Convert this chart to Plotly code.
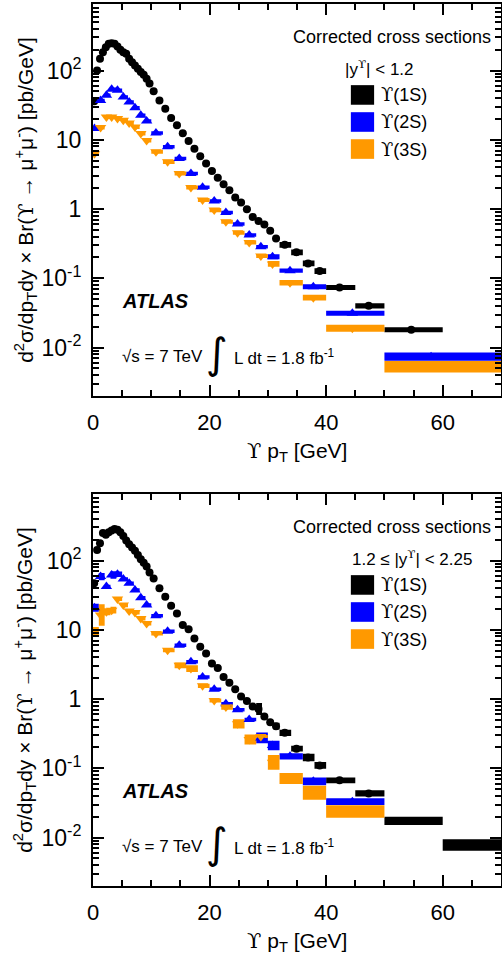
import plotly.graph_objects as go
import math

# ---------------- DATA ----------------
# Top panel: |y| < 1.2
top_1s_edges = [0, 0.5, 1, 1.5, 2, 2.5, 3, 3.5, 4, 4.5, 5, 5.5, 6, 6.5, 7, 7.5, 8, 8.5, 9, 9.5, 10,
                11, 12, 13, 14, 15, 16, 17, 18, 19, 20, 21, 22, 23, 24, 25, 26, 27, 28, 29, 30, 31, 32,
                34, 36, 38, 40, 45, 50, 60]
top_1s_x = [0.2, 0.7, 1.2, 1.7, 2.2, 2.7, 3.2, 3.7, 4.2, 4.7, 5.2, 5.7, 6.2, 6.7, 7.2, 7.7, 8.2, 8.7, 9.2, 9.7,
            10.4, 11.4, 12.4, 13.4, 14.4, 15.4, 16.4, 17.4, 18.4, 19.4, 20.4, 21.4, 22.4, 23.4, 24.4, 25.4,
            26.4, 27.4, 28.4, 29.4, 30.4, 31.4, 32.9, 34.9, 36.9, 38.9, 42.3, 47.3, 54.6]
top_1s_val = [36, 100, 148, 184, 217, 243, 248, 243, 222, 199, 184, 175, 148, 132, 118, 106, 95, 87, 76, 65,
              50, 37, 28, 20.6, 16.2, 12.4, 9.6, 7.4, 5.8, 4.54, 3.55, 2.82, 2.28, 1.87, 1.47, 1.24,
              0.99, 0.77, 0.67, 0.60, 0.485, 0.377, 0.305, 0.237, 0.164, 0.127, 0.0737, 0.040, 0.0181]
top_1s_sys = [0.06] * 42 + [0.10, 0.10, 0.10, 0.10, 0.09, 0.09, 0.09]

top_23_edges = [0, 1, 2, 3, 4, 5, 6, 7, 8, 9, 10, 12, 14, 16, 18, 20, 22, 24, 26, 28, 30, 32, 36, 40, 50, 70]
top_2s_x = [0.25, 1.3, 2.3, 3.2, 4.2, 5.2, 6.2, 7.2, 8.2, 9.2, 10.8, 12.8, 14.8, 16.8, 18.8, 20.8,
            22.8, 24.8, 26.8, 28.8, 30.8, 33.8, 37.8, 44.5, 58.0]
top_2s_val = [14.5, 37, 43.8, 53.4, 51.7, 41.4, 35.1, 29.1, 22.5, 18.7, 12.5, 7.9, 5.35, 3.26, 2.07, 1.31,
              0.893, 0.606, 0.421, 0.285, 0.205, 0.129, 0.0757, 0.0314, 0.0074]
top_2s_sys = [0.06] * 20 + [0.087, 0.075, 0.087, 0.087, 0.15]
top_3s_x = top_2s_x
top_3s_val = [6.3, 15.0, 21.3, 21.3, 20.2, 19.1, 17.5, 15.3, 12.3, 9.8, 6.7, 4.8, 3.26, 2.05, 1.35, 0.965,
              0.654, 0.454, 0.33, 0.21, 0.161, 0.0865, 0.0526, 0.019, 0.0053]
top_3s_sys = [0.07] * 20 + [0.10, 0.095, 0.10, 0.12, 0.21]

# Bottom panel: 1.2 <= |y| < 2.25
bot_1s_edges = top_1s_edges + [70]
bot_1s_x = top_1s_x + [64.5]
bot_1s_val = [47, 142, 178, 249, 235, 255, 272, 285, 278, 255, 225, 195, 172, 154, 138, 120, 104, 93, 82, 67,
              55, 39.7, 30, 22.3, 17.2, 11.7, 10.2, 7.5, 5.67, 4.54, 3.25, 2.81, 2.08, 1.72, 1.38, 1.09,
              0.935, 0.78, 0.72, 0.56, 0.464, 0.406, 0.325, 0.192, 0.143, 0.110, 0.067, 0.0434, 0.0174, 0.0078]
bot_1s_sys = [0.06] * 38 + [0.22, 0.06, 0.06, 0.12] + [0.11, 0.10, 0.13, 0.12, 0.10, 0.11, 0.15, 0.21]

bot_23_edges = [0, 1, 2, 3, 4, 5, 6, 7, 8, 9, 10, 12, 14, 16, 18, 20, 22, 24, 26, 28, 30, 32, 36, 40, 50]
bot_2s_x = [0.25, 1.3, 2.3, 3.2, 4.2, 5.2, 6.2, 7.2, 8.2, 9.2, 10.8, 12.8, 14.8, 16.8, 18.8, 20.8,
            22.8, 24.8, 26.8, 28.8, 30.8, 33.8, 37.8, 44.5]
bot_2s_val = [20.8, 58.6, 42, 61.8, 63.3, 54.2, 46.9, 37.5, 29.1, 22.7, 16.0, 9.55, 6.0, 3.44, 2.08, 1.38,
              0.855, 0.70, 0.507, 0.275, 0.213, 0.149, 0.0648, 0.033]
bot_2s_sys = [0.14, 0.13, 0.06, 0.13, 0.10] + [0.06] * 14 + [0.20, 0.17, 0.11, 0.14, 0.12]
bot_3s_x = bot_2s_x
bot_3s_val = [9.35, 16.3, 18.2, 19.2, 27.8, 22.7, 18.6, 17.8, 14.6, 12.3, 8.84, 5.06, 3.07, 2.75, 1.55, 0.955,
              0.765, 0.438, 0.26, 0.287, 0.122, 0.0715, 0.0443, 0.0238]
bot_3s_sys = [0.17, 0.43, 0.12, 0.12, 0.07, 0.07, 0.07, 0.07, 0.07, 0.07, 0.07, 0.07, 0.10, 0.12, 0.07, 0.07,
              0.09, 0.17, 0.18, 0.05, 0.28, 0.20, 0.26, 0.235]

UPS = "<span style='font-family:DejaVu Serif'>ϒ</span>"
series_names = [UPS + "(1S)", UPS + "(2S)", UPS + "(3S)"]
rapidity_labels = ["|y<sup>" + UPS + "</sup>| < 1.2", "1.2 ≤ |y<sup>" + UPS + "</sup>| < 2.25"]
y_tickvals = [0.01, 0.1, 1, 10, 100]
y_ticktext = ["10<sup>-2</sup>", "10<sup>-1</sup>", "1", "10", "10<sup>2</sup>"]
x_tickvals = [0, 20, 40, 60]

# ---------------- STYLE ----------------
COLORS = ["#000000", "#0000ff", "#ff9900"]
SYMBOLS = ["circle", "triangle-up", "triangle-down"]
SIZES = [8, 10, 10]
FONT = "Liberation Sans, Arial, Helvetica, sans-serif"


def box_path(edges, vals, sys):
    xs, ys = [], []
    for lo, hi, v, e in zip(edges[:-1], edges[1:], vals, sys):
        ylo, yhi = v / (1 + e), v * (1 + e)
        xs += [lo, hi, hi, lo, lo, None]
        ys += [ylo, ylo, yhi, yhi, ylo, None]
    return xs, ys


panels = [
    dict(ax="x", ay="y",
         series=[(top_1s_edges, top_1s_x, top_1s_val, top_1s_sys),
                 (top_23_edges, top_2s_x, top_2s_val, top_2s_sys),
                 (top_23_edges, top_3s_x, top_3s_val, top_3s_sys)],
         rap=rapidity_labels[0], rapx=0.703),
    dict(ax="x2", ay="y2",
         series=[(bot_1s_edges, bot_1s_x, bot_1s_val, bot_1s_sys),
                 (bot_23_edges, bot_2s_x, bot_2s_val, bot_2s_sys),
                 (bot_23_edges, bot_3s_x, bot_3s_val, bot_3s_sys)],
         rap=rapidity_labels[1], rapx=0.782),
]

fig = go.Figure()
annotations = []
shapes = []

for p in panels:
    ax, ay = p["ax"], p["ay"]
    for i, (edges, xs, vals, sys) in enumerate(p["series"]):
        bx, by = box_path(edges, vals, sys)
        fig.add_trace(go.Scatter(x=bx, y=by, mode="lines", fill="toself",
                                 fillcolor=COLORS[i], line=dict(width=0, color=COLORS[i]),
                                 xaxis=ax, yaxis=ay, hoverinfo="skip", showlegend=False))
    for i, (edges, xs, vals, sys) in enumerate(p["series"]):
        fig.add_trace(go.Scatter(x=xs, y=vals, mode="markers",
                                 marker=dict(symbol=SYMBOLS[i], size=SIZES[i], color=COLORS[i],
                                             line=dict(width=0)),
                                 xaxis=ax, yaxis=ay, showlegend=False))

    xr, yr = ax + " domain", ay + " domain"
    annotations.append(dict(xref=xr, yref=yr, x=0.98, y=0.917, xanchor="right", yanchor="middle",
                            text="Corrected cross sections", showarrow=False,
                            font=dict(size=18, family=FONT, color="black")))
    annotations.append(dict(xref=xr, yref=yr, x=p["rapx"], y=0.837, xanchor="center", yanchor="middle",
                            text=p["rap"], showarrow=False,
                            font=dict(size=17, family=FONT, color="black")))
    for i, (yc, y0, y1) in enumerate([(0.768, 0.743, 0.793), (0.699, 0.674, 0.724), (0.630, 0.605, 0.655)]):
        shapes.append(dict(type="rect", xref=xr, yref=yr, x0=0.632, x1=0.689, y0=y0, y1=y1,
                           fillcolor=COLORS[i], line=dict(width=0)))
        annotations.append(dict(xref=xr, yref=yr, x=0.70, y=yc, xanchor="left", yanchor="middle",
                                text=series_names[i], showarrow=False,
                                font=dict(size=18, family=FONT, color="black")))
    annotations.append(dict(xref=xr, yref=yr, x=0.066, y=0.242, xanchor="left", yanchor="middle",
                            text="<b><i>ATLAS</i></b>", showarrow=False,
                            font=dict(size=20, family=FONT, color="black")))
    annotations.append(dict(xref=xr, yref=yr, x=0.066, y=0.10, xanchor="left", yanchor="middle",
                            text="√s = 7 TeV", showarrow=False,
                            font=dict(size=17, family=FONT, color="black")))
    annotations.append(dict(xref=xr, yref=yr, x=0.304, y=0.108, xanchor="center", yanchor="middle",
                            text="∫", showarrow=False,
                            font=dict(size=42, family="DejaVu Sans", color="black")))
    annotations.append(dict(xref=xr, yref=yr, x=0.341, y=0.10, xanchor="left", yanchor="middle",
                            text="L dt = 1.8 fb<sup>-1</sup>", showarrow=False,
                            font=dict(size=17, family=FONT, color="black")))
    annotations.append(dict(xref=xr, yref=yr, x=0.5, y=-0.143, xanchor="center", yanchor="middle",
                            text=UPS + " p<sub>T</sub> [GeV]", showarrow=False,
                            font=dict(size=21, family=FONT, color="black")))
    annotations.append(dict(xref=xr, yref=yr, x=-0.167, y=0.5, xanchor="center", yanchor="middle",
                            textangle=-90,
                            text="d<sup>2</sup>σ/dp<sub>T</sub>dy × Br(" + UPS + " → μ<sup>+</sup>μ<sup>-</sup>) [pb/GeV]",
                            showarrow=False, font=dict(size=21, family=FONT, color="black")))

minor_log = [m * 10 ** e for e in range(-3, 3) for m in range(2, 10)]

xaxis_common = dict(range=[0, 70], showline=True, linewidth=2, linecolor="black", mirror="allticks",
                    ticks="inside", ticklen=11, tickwidth=1.5, tickcolor="black",
                    tickvals=x_tickvals, showgrid=False, zeroline=False,
                    tickfont=dict(size=22, family=FONT, color="black"), ticklabelstandoff=6,
                    minor=dict(dtick=5, tick0=0, ticks="inside", ticklen=6, tickwidth=1.5,
                               tickcolor="black", showgrid=False))
yaxis_common = dict(type="log", range=[math.log10(0.002), 2.96], showline=True, linewidth=2,
                    linecolor="black", mirror="allticks", ticks="inside", ticklen=11, tickwidth=1.5,
                    tickcolor="black", tickvals=y_tickvals, ticktext=y_ticktext, showgrid=False,
                    zeroline=False, tickfont=dict(size=23, family=FONT, color="black"),
                    ticklabelstandoff=5,
                    minor=dict(tickvals=minor_log, ticks="inside", ticklen=6, tickwidth=1.5,
                               tickcolor="black", showgrid=False))

fig.update_layout(
    width=502, height=958,
    margin=dict(l=93, r=1, t=0, b=0),
    paper_bgcolor="white", plot_bgcolor="white",
    showlegend=False,
    xaxis=dict(xaxis_common, domain=[0, 1], anchor="y"),
    yaxis=dict(yaxis_common, domain=[0.58664, 0.99582], anchor="x"),
    xaxis2=dict(xaxis_common, domain=[0, 1], anchor="y2"),
    yaxis2=dict(yaxis_common, domain=[0.07516, 0.48434], anchor="x2"),
    annotations=annotations,
    shapes=shapes,
    font=dict(family=FONT, color="black"),
)

fig.write_html("out.html", config={"displayModeBar": False},
               post_script="document.body.style.margin='0';document.body.style.overflow='hidden';")
